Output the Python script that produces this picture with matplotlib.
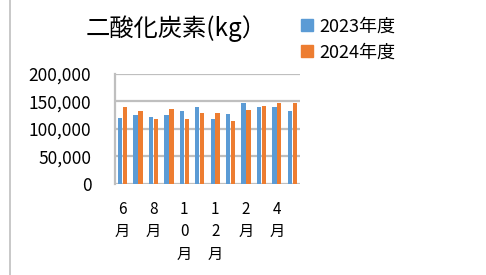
import numpy as np
import matplotlib.pyplot as plt
from matplotlib.lines import Line2D
from matplotlib.ticker import FuncFormatter

plt.rcParams["font.family"] = ["Noto Sans CJK JP", "DejaVu Sans"]

months = ["6月", "7月", "8月", "9月", "10月", "11月", "12月", "1月", "2月", "3月", "4月", "5月"]
fy2023 = [119400, 126000, 121800, 125500, 132100, 140600, 118200, 127300, 147900, 140000, 140600, 132700]
fy2024 = [140600, 132700, 118800, 136400, 118200, 128500, 129100, 114500, 133900, 142400, 147300, 146700]
series_names = ["2023年度", "2024年度"]
colors = ["#5B9BD5", "#ED7D31"]

fig = plt.figure(figsize=(4.86, 2.75), dpi=100)
ax = fig.add_axes([0.2366, 0.331, 0.3806, 0.40])

x = np.arange(len(months))
w = 0.28
ax.bar(x - w / 2 - 0.02, fy2023, width=w, color=colors[0], zorder=3)
ax.bar(x + w / 2 + 0.02, fy2024, width=w, color=colors[1], zorder=3)

ax.set_xlim(-0.5, len(months) - 0.5)
ax.set_ylim(0, 200000)
ax.set_yticks(np.arange(0, 200001, 50000))
ax.yaxis.set_major_formatter(FuncFormatter(lambda v, p: f"{int(v):,}"))
ax.grid(axis="y", color="#BFBFBF", linewidth=1.6, zorder=0)

# every other month label, written one character per line
shown = x[::2]
ax.set_xticks(shown, ["\n".join(months[i]) for i in shown], fontsize=11, linespacing=1.42)
ax.tick_params(axis="x", length=0, pad=12)
ax.tick_params(axis="y", length=0, pad=17, labelsize=12.5)

for s in ["top", "right", "bottom"]:
    ax.spines[s].set_visible(False)
ax.spines["left"].set_color("#BFBFBF")
ax.spines["left"].set_linewidth(1.6)

fig.text(0.362, 0.895, "二酸化炭素(kg）", ha="center", va="center", fontsize=17.5)

handles = [Line2D([], [], marker="s", linestyle="none", markersize=8.5,
                  markerfacecolor=c, markeredgecolor=c) for c in colors]
fig.legend(handles, series_names, loc="upper left", bbox_to_anchor=(0.58, 0.995),
           frameon=False, fontsize=13, handletextpad=0.15, labelspacing=0.45,
           handlelength=1.0)

fig.add_artist(Line2D([0.021, 0.021], [0, 1], color="#BFBFBF", linewidth=1.2))

fig.savefig("out.png", dpi=100)
